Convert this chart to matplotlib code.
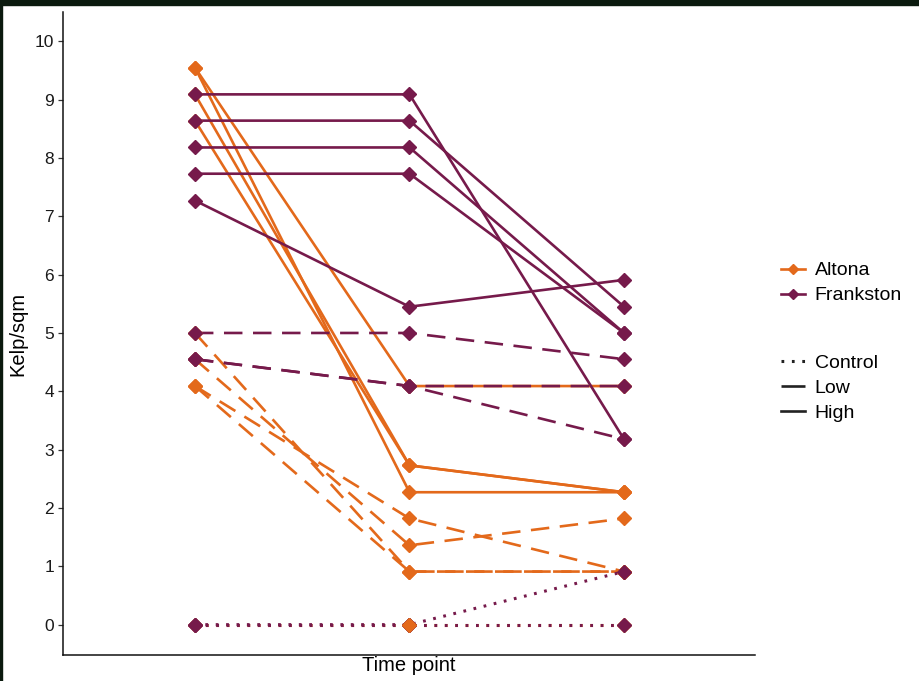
import numpy as np
import matplotlib

matplotlib.use('Agg')
import matplotlib.pyplot as plt
from matplotlib.lines import Line2D
from matplotlib.patches import Rectangle

plt.rcParams['font.family'] = ['Liberation Sans', 'DejaVu Sans']

# kelp density per replicate at the three time points
TIMES = [1, 2, 3]
ALTONA_HIGH = [[9.55, 4.09, 4.09], [9.55, 2.27, 2.27],
               [9.09, 2.73, 2.27], [8.64, 2.73, 2.27]]
ALTONA_LOW = [[5.0, 0.91, 0.91], [4.55, 1.36, 1.82],
              [4.09, 0.91, 0.91], [4.09, 1.82, 0.91]]
ALTONA_CONTROL = [[0.0, 0.0, 0.0]]
FRANK_HIGH = [[9.09, 9.09, 3.18], [8.64, 8.64, 5.45], [8.18, 8.18, 5.0],
              [7.73, 7.73, 5.0], [7.27, 5.45, 5.91]]
FRANK_LOW = [[5.0, 5.0, 4.55], [4.55, 4.09, 4.09], [4.55, 4.09, 3.18]]
FRANK_CONTROL = [[0.0, 0.0, 0.91], [0.0, 0.0, 0.0]]

SITES = ['Altona', 'Frankston']
TREATMENTS = ['Control', 'Low', 'High']
COLORS = {'Altona': '#e3691b', 'Frankston': '#761a4b'}
LW = 1.9
STYLES = {'Control': dict(linestyle=(0, (0.9, 2.5)), lw=2.2),
          'Low': dict(linestyle=(0, (7, 4)), lw=LW),
          'High': dict(linestyle='-', lw=LW)}
MS = 6.8

fig = plt.figure(figsize=(9.2, 6.81), dpi=100)
ax = fig.add_axes([0.0685, 0.0382, 0.752, 0.944])

groups = [('Altona', 'Control', ALTONA_CONTROL), ('Altona', 'Low', ALTONA_LOW),
          ('Altona', 'High', ALTONA_HIGH), ('Frankston', 'Control', FRANK_CONTROL),
          ('Frankston', 'Low', FRANK_LOW), ('Frankston', 'High', FRANK_HIGH)]

for site, trt, series in groups:
    for vals in series:
        ax.plot(TIMES, vals, color=COLORS[site], dash_capstyle='butt',
                zorder=2, **STYLES[trt])
for site, trt, series in groups:
    for vals in series:
        ax.plot(TIMES, vals, linestyle='none', marker='D', ms=MS,
                color=COLORS[site], mec=COLORS[site], zorder=3)
# Altona control point at time 2 sits over the Frankston one
ax.plot(TIMES[1], ALTONA_CONTROL[0][1], linestyle='none', marker='D', ms=MS,
        color=COLORS['Altona'], zorder=4)

ax.set_xlim(0.385, 3.61)
ax.set_ylim(-0.52, 10.5)
ax.set_xticks([])
ax.set_yticks(range(0, 11))
ax.tick_params(axis='y', labelsize=12.5, length=3.5, width=0.9, color='#333333',
               labelcolor='#1a1a1a', pad=3)
for side in ['top', 'right']:
    ax.spines[side].set_visible(False)
for side in ['left', 'bottom']:
    ax.spines[side].set_linewidth(1.1)
    ax.spines[side].set_color('#111111')
ax.set_xlabel('Time point', fontsize=14.5, labelpad=1)
ax.set_ylabel('Kelp/sqm', fontsize=14.5, labelpad=5)

site_handles = [Line2D([], [], color=COLORS[s], lw=LW, marker='D', ms=5,
                       label=s) for s in SITES]
# the legend keys are shorter than one dash, so "Low" reads as a short bar
key_styles = dict(STYLES, Low=dict(linestyle=(0, (12, 4)), lw=LW))
trt_handles = [Line2D([], [], color='#222222', dash_capstyle='butt', label=t,
                      **key_styles[t]) for t in TREATMENTS]

common = dict(loc='upper left', frameon=False, fontsize=14, handlelength=1.25,
              handletextpad=0.5, labelspacing=0.38, borderaxespad=0)
fig.legend(handles=site_handles, bbox_to_anchor=(0.840, 0.627), **common)
fig.legend(handles=trt_handles, bbox_to_anchor=(0.840, 0.491), **common)

# dark frame along the top and left edges
fig.patches.append(Rectangle((0, 1 - 5 / 681), 1, 5 / 681, transform=fig.transFigure,
                             color='#0b1a0e', zorder=10))
fig.patches.append(Rectangle((0, 0), 2 / 920, 1, transform=fig.transFigure,
                             color='#0b1a0e', zorder=10))

fig.savefig('out.png', dpi=100)
